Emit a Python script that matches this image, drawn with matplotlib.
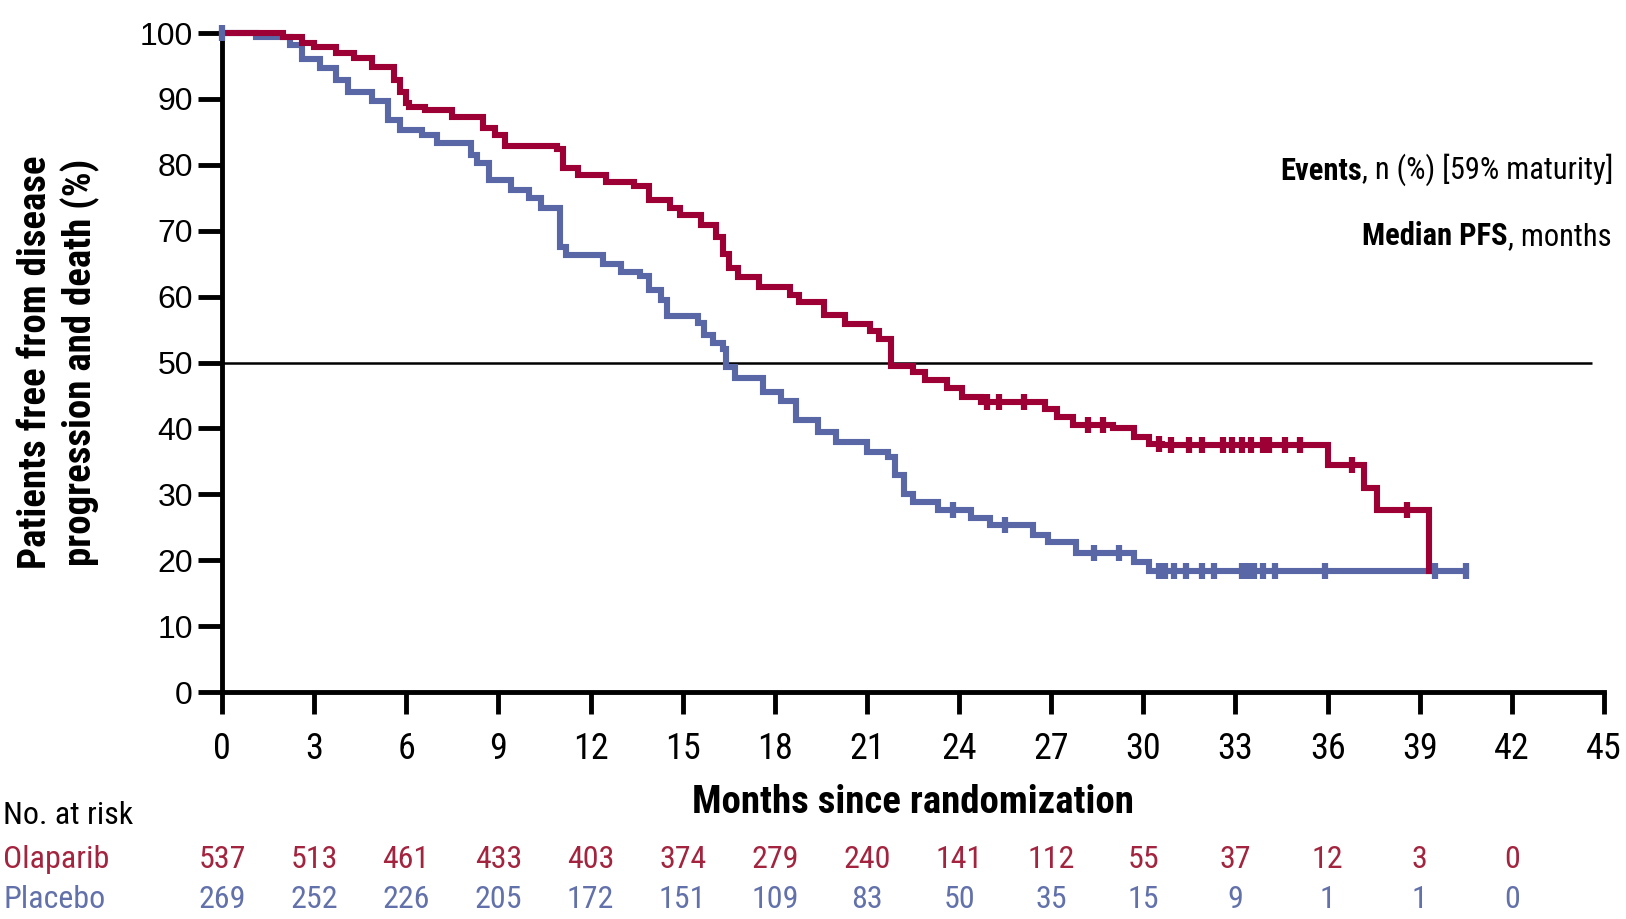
import numpy as np
import matplotlib
matplotlib.use("Agg")
import matplotlib.pyplot as plt
from matplotlib import font_manager
from matplotlib.transforms import blended_transform_factory

# KM curves (time in months, % event-free, step after)
ola_t = [0, 2.0, 2.6, 3.0, 3.7, 4.3, 4.9, 5.6, 5.8, 6.0, 6.1, 6.6, 7.5, 8.5, 8.9,
         9.2, 10.9, 11.1, 11.6, 12.5, 13.4, 13.9, 14.6, 14.9, 15.6, 16.1, 16.3,
         16.5, 16.8, 17.5, 18.5, 18.8, 19.6, 20.3, 21.1, 21.4, 21.8, 22.5, 22.9,
         23.6, 24.1, 24.7, 26.8, 27.2, 27.7, 29.0, 29.7, 30.2, 30.6, 36.0, 37.2,
         37.6, 39.3]
ola_s = [100, 99.4, 98.5, 97.9, 97.0, 96.2, 94.8, 92.9, 91.0, 89.4, 88.8, 88.3,
         87.3, 85.6, 84.5, 82.9, 82.4, 79.5, 78.5, 77.4, 76.8, 74.7, 73.5, 72.4,
         70.9, 69.0, 66.5, 64.3, 63.0, 61.5, 60.2, 59.2, 57.2, 55.8, 54.8, 53.5,
         49.5, 48.5, 47.4, 46.2, 44.8, 44.0, 43.0, 41.8, 40.5, 40.0, 38.7, 37.7,
         37.5, 34.4, 31.0, 27.6, 18.4]
ola_end = 39.3
ola_cens = [24.9, 25.3, 26.1, 28.2, 28.7, 30.5, 30.9, 31.5, 31.9, 32.6, 32.9,
            33.2, 33.5, 33.9, 34.1, 34.6, 35.1, 36.8, 38.6]

pla_t = [0, 1.1, 2.2, 2.6, 3.2, 3.7, 4.1, 4.9, 5.4, 5.8, 6.5, 7.0, 8.1, 8.3, 8.7,
         9.4, 10.0, 10.4, 11.0, 11.2, 12.4, 13.0, 13.6, 13.9, 14.3, 14.5, 15.5,
         15.7, 16.0, 16.3, 16.4, 16.7, 17.6, 18.2, 18.7, 19.4, 20.0, 21.0, 21.7,
         21.9, 22.2, 22.5, 23.3, 24.4, 25.0, 26.4, 26.9, 27.8, 29.7, 30.2]
pla_s = [100, 99.4, 98.2, 96.0, 94.7, 92.9, 91.0, 89.7, 86.8, 85.3, 84.5, 83.3,
         81.5, 80.3, 77.7, 76.2, 75.0, 73.4, 67.5, 66.3, 65.0, 63.8, 63.1, 61.0,
         59.5, 57.1, 56.0, 54.2, 53.0, 52.0, 49.3, 47.6, 45.5, 44.2, 41.3, 39.5,
         38.0, 36.5, 35.7, 33.0, 30.0, 28.8, 27.6, 26.4, 25.3, 23.8, 22.8, 21.1,
         19.7, 18.4]
pla_end = 40.5
pla_cens = [0, 23.8, 25.5, 28.4, 29.2, 30.5, 30.7, 31.0, 31.4, 31.9, 32.3, 33.2,
            33.4, 33.6, 33.9, 34.3, 35.9, 39.5, 40.5]

risk_times = list(range(0, 45, 3))
ola_risk = [537, 513, 461, 433, 403, 374, 279, 240, 141, 112, 55, 37, 12, 3, 0]
pla_risk = [269, 252, 226, 205, 172, 151, 109, 83, 50, 35, 15, 9, 1, 1, 0]

red = "#9c0034"
blue = "#5a67a6"
red_txt = "#a3243f"
blue_txt = "#6371ab"

# pick an Arial-Narrow-like face if there is one
names = {f.name for f in font_manager.fontManager.ttflist}
narrow = "Liberation Sans"
for cand in ["Liberation Sans Narrow", "Arial Narrow", "Nimbus Sans Narrow",
             "Roboto Condensed", "PT Sans Narrow", "Archivo Narrow",
             "Barlow Semi Condensed"]:
    if cand in names:
        narrow = cand
        break
plt.rcParams["font.family"] = [narrow, "DejaVu Sans"]

fig = plt.figure(figsize=(16.26, 9.19), dpi=100)
ax = fig.add_axes([0.1365, 0.247, 0.85, 0.717])


def km_at(t, times, surv):
    idx = np.searchsorted(times, t, side="right") - 1
    return np.asarray(surv)[idx]


for times, surv, end, cens, col in [(pla_t, pla_s, pla_end, pla_cens, blue),
                                    (ola_t, ola_s, ola_end, ola_cens, red)]:
    tt = list(times) + [end]
    ss = list(surv) + [surv[-1]]
    ax.step(tt, ss, where="post", color=col, lw=4.4, clip_on=False,
            solid_joinstyle="miter", zorder=3)
    ax.plot(cens, km_at(cens, times, surv), ls="none", marker="|", ms=11,
            mew=4.5, color=col, clip_on=False, zorder=4)

ax.hlines(50, 0, 44.6, color="black", lw=1.8, zorder=2)

ax.set_xlim(0, 45)
ax.set_ylim(0, 100)
ax.set_xticks(range(0, 46, 3))
ax.set_yticks(range(0, 101, 10))
for s in ["top", "right"]:
    ax.spines[s].set_visible(False)
for s in ["left", "bottom"]:
    ax.spines[s].set_linewidth(3.5)
ax.tick_params(axis="y", direction="out", length=17, width=3.5, pad=4,
               labelsize=23)
ax.tick_params(axis="x", direction="out", length=16, width=3.5, pad=12,
               labelsize=26)
for lab in ax.get_yticklabels():
    lab.set_family(["Liberation Sans", "DejaVu Sans"])

ax.set_xlabel("Months since randomization", fontsize=28, fontweight="bold",
              labelpad=12)
fig.text(0.036, 0.606, "Patients free from disease\nprogression and death (%)",
         rotation=90, ha="center", va="center", fontsize=28,
         fontweight="bold", linespacing=1.2)

# at-risk table
tr = blended_transform_factory(ax.transData, fig.transFigure)
fig.text(0.002, 1 - 816 / 919, "No. at risk", fontsize=23, va="center")
fig.text(0.002, 1 - 860 / 919, "Olaparib", fontsize=23, va="center", color=red_txt)
fig.text(0.002, 1 - 900 / 919, "Placebo", fontsize=23, va="center", color=blue_txt)
for t, a, b in zip(risk_times, ola_risk, pla_risk):
    ax.text(t, 1 - 860 / 919, str(a), transform=tr, ha="center", va="center",
            fontsize=23, color=red_txt, clip_on=False)
    ax.text(t, 1 - 900 / 919, str(b), transform=tr, ha="center", va="center",
            fontsize=23, color=blue_txt, clip_on=False)

# summary text at the right
t1 = fig.text(1280 / 1626, 1 - 171 / 919, "Events", fontsize=22,
              fontweight="bold", va="center")
ax.annotate(", n (%) [59% maturity]", xy=(1, 0), xycoords=t1, fontsize=22,
            va="bottom", ha="left", annotation_clip=False)
t2 = fig.text(1362 / 1626, 1 - 236 / 919, "Median PFS", fontsize=22,
              fontweight="bold", va="center")
ax.annotate(", months", xy=(1, 0), xycoords=t2, fontsize=22,
            va="bottom", ha="left", annotation_clip=False)

fig.savefig("out.png", dpi=100)
